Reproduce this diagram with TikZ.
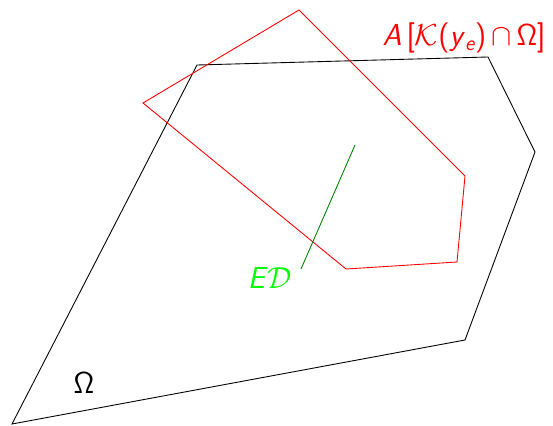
\documentclass[tikz,border=0pt]{standalone}
\usepackage{amsmath}
\usepackage{xcolor}
\definecolor{regred}{HTML}{FF0000}
\definecolor{dirgreen}{HTML}{00FF00}
\definecolor{linegreen}{HTML}{008000}

\begin{document}
\begin{tikzpicture}[x=0.02cm, y=-0.02cm,
      lbl/.style={font=\LARGE\sffamily, inner sep=0pt},
      edge/.style={line width=0.5pt}
    ]
    \useasboundingbox (0,0) rectangle (553,425);
    % feasible set
    \draw[edge] (12,424) -- (197,65) -- (488,57) -- (535,152) -- (465,340) -- cycle;
    % mapped region
    \draw[edge, regred] (299,10) -- (465,176) -- (457,262) -- (346,269) -- (143,103) -- cycle;
    % direction segment
    \coordinate (dlo) at (301,269);
    \coordinate (dhi) at (355,145);
    \draw[edge, linegreen] (dlo) -- (dhi);

    \node[lbl, regred] (amap) at (464,38) {\textit{A}\,[$\mathcal{K}$(\textit{y}$_{\textit{e}}$)\,$\cap$\,Ω]};
    \node[lbl, dirgreen] (edir) at (270,278) {\textit{E}$\mathcal{D}$};
    \node[lbl] (omega) at (84,383) {Ω};
  \end{tikzpicture}
\end{document}
